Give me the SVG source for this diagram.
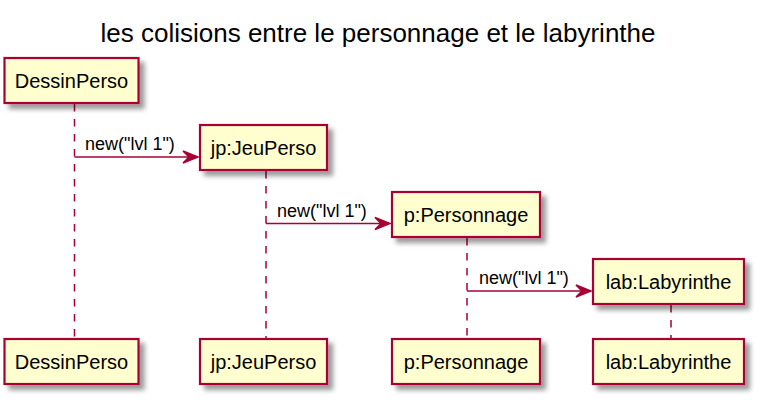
<svg xmlns="http://www.w3.org/2000/svg" width="763" height="402" viewBox="0 0 763 402">
<defs>
<filter id="sh" x="-20%" y="-30%" width="150%" height="180%">
<feGaussianBlur in="SourceAlpha" stdDeviation="2.5"/>
<feOffset dx="5" dy="5" result="b"/>
<feComponentTransfer><feFuncA type="linear" slope="0.4"/></feComponentTransfer>
<feMerge><feMergeNode/><feMergeNode in="SourceGraphic"/></feMerge>
</filter>
</defs>
<style>
.box{fill:#FEFECE;stroke:#A80036;stroke-width:2.2;filter:url(#sh)}
.pt{font-family:"Liberation Sans",Arial,sans-serif;font-size:20px;fill:#000;text-anchor:middle}
.life{stroke:#A80036;stroke-width:1.5;stroke-dasharray:7.5,7.5;fill:none}
.msg{stroke:#A80036;stroke-width:1.5;fill:none}
.head{fill:#A80036;stroke:#A80036;stroke-width:1.5}
.ml{font-family:"Liberation Sans",Arial,sans-serif;font-size:18px;fill:#000}
.title{font-family:"Liberation Sans",Arial,sans-serif;font-size:26px;fill:#000;text-anchor:middle}
</style>
<rect width="763" height="402" fill="#FFFFFF"/>
<text class="title" x="378" y="42">les colisions entre le personnage et le labyrinthe</text>
<g id="lifelines">
<line class="life" x1="74.5" y1="104" x2="74.5" y2="339"/>
<line class="life" x1="266" y1="171" x2="266" y2="339"/>
<line class="life" x1="467" y1="238" x2="467" y2="339"/>
<line class="life" x1="671" y1="305" x2="671" y2="339"/>
</g>
<g id="DessinPerso">
<rect class="box" x="4.5" y="58" width="134" height="45"/>
<text class="pt" x="71.5" y="88">DessinPerso</text>
<rect class="box" x="4.5" y="339" width="134" height="45"/>
<text class="pt" x="71.5" y="369">DessinPerso</text>
</g>
<g id="JeuPerso">
<rect class="box" x="200" y="125" width="127" height="45"/>
<text class="pt" x="263.5" y="155">jp:JeuPerso</text>
<rect class="box" x="200" y="339" width="127" height="45"/>
<text class="pt" x="263.5" y="369">jp:JeuPerso</text>
</g>
<g id="Personnage">
<rect class="box" x="392" y="192" width="148" height="45"/>
<text class="pt" x="466" y="222">p:Personnage</text>
<rect class="box" x="392" y="339" width="148" height="45"/>
<text class="pt" x="466" y="369">p:Personnage</text>
</g>
<g id="Labyrinthe">
<rect class="box" x="593" y="259" width="151" height="45"/>
<text class="pt" x="668.5" y="289">lab:Labyrinthe</text>
<rect class="box" x="593" y="339" width="151" height="45"/>
<text class="pt" x="668.5" y="369">lab:Labyrinthe</text>
</g>
<g id="connectors">
<line class="msg" x1="74.5" y1="157" x2="197" y2="157"/>
<polygon class="head" points="183,151 198,157 183,163 189,157"/>
<text class="ml" x="85" y="150">new("lvl 1")</text>
<line class="msg" x1="266" y1="223.5" x2="389" y2="223.5"/>
<polygon class="head" points="375,217.5 390,223.5 375,229.5 381,223.5"/>
<text class="ml" x="277" y="217">new("lvl 1")</text>
<line class="msg" x1="467" y1="291" x2="590" y2="291"/>
<polygon class="head" points="576,285 591,291 576,297 582,291"/>
<text class="ml" x="479" y="284">new("lvl 1")</text>
</g>
</svg>
